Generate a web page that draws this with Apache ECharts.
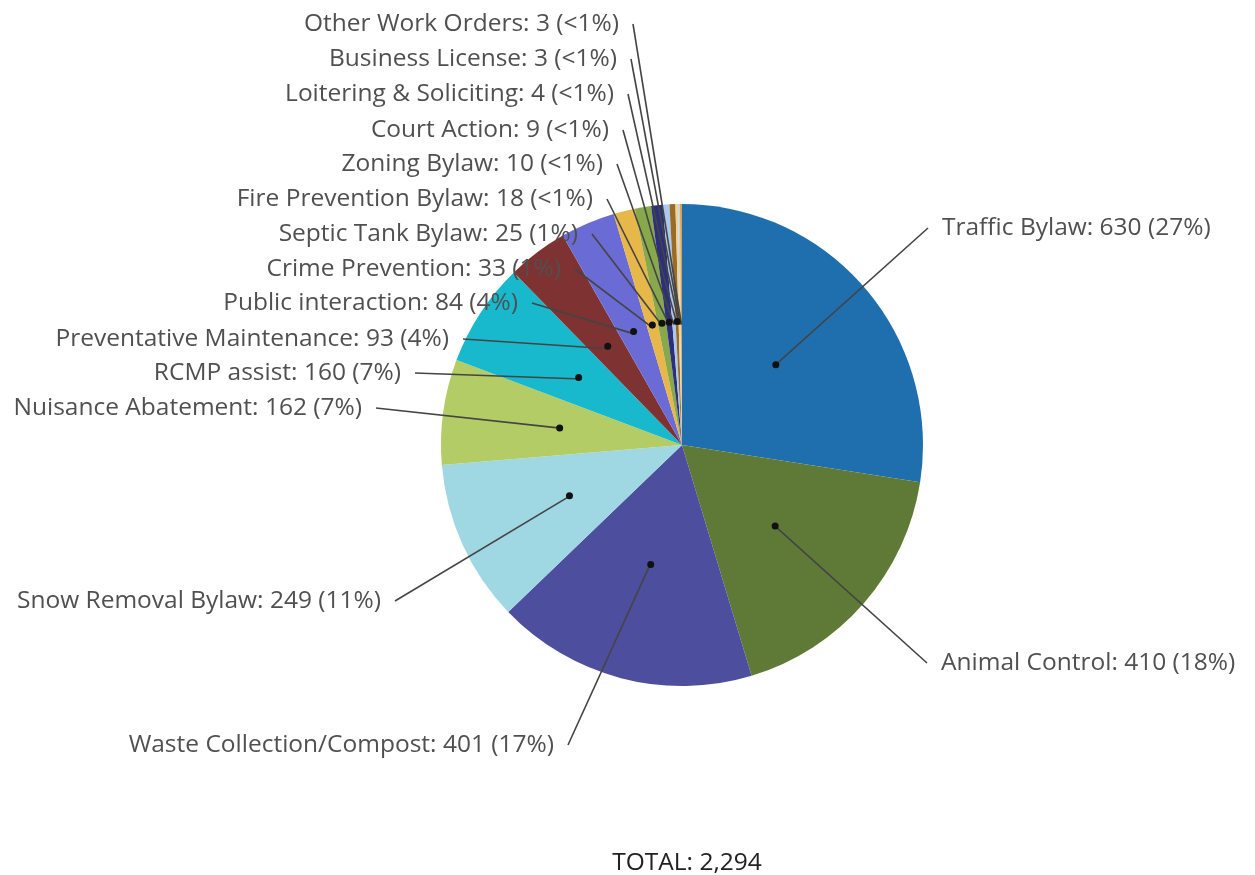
<!DOCTYPE html>
<html>
<head>
<meta charset="utf-8">
<script src="https://cdn.jsdelivr.net/npm/echarts@6/dist/echarts.min.js"></script>
<style>
  html, body { margin: 0; padding: 0; background: #fff; }
  #chart { width: 1255px; height: 875px; }
</style>
</head>
<body>
<div id="chart"></div>
<script>
const categories = [
  "Traffic Bylaw", "Animal Control", "Waste Collection/Compost", "Snow Removal Bylaw",
  "Nuisance Abatement", "RCMP assist", "Preventative Maintenance", "Public interaction",
  "Crime Prevention", "Septic Tank Bylaw", "Fire Prevention Bylaw", "Zoning Bylaw",
  "Court Action", "Loitering & Soliciting", "Business License", "Other Work Orders"
];
const counts = [630, 410, 401, 249, 162, 160, 93, 84, 33, 25, 18, 10, 9, 4, 3, 3];
const colors = [
  "#1f6fae", "#5e7a36", "#4d4f9e", "#9fd7e2", "#b4cc65", "#18b9cd", "#7e3332", "#6b6bd5",
  "#e7b849", "#87a94c", "#2c2f7b", "#aac8ec", "#9b6a27", "#e9d591", "#c5d3e8", "#e0a040"
];

const total = counts.reduce((a, b) => a + b, 0);

// label anchor spots [x, y, side] (side: 1 = text to the right of the line start)
const labelSpots = [
  [928, 228, 1], [927, 663, 1], [568, 745, -1], [395, 601, -1],
  [376, 408, -1], [415, 373, -1], [463, 339, -1], [532, 303, -1],
  [575, 269, -1], [592, 234, -1], [607, 199, -1], [617, 164, -1],
  [623, 130, -1], [628, 94, -1], [631, 59, -1], [633, 24, -1]
];

const pieData = categories.map((name, i) => ({ name: name, value: counts[i] }));

const pctText = (v) => {
  const p = v / total * 100;
  return p < 1 ? "<1%" : Math.round(p) + "%";
};

const chart = echarts.init(document.getElementById("chart"));

const basePie = {
  type: "pie",
  center: [682, 445],
  radius: 241,
  startAngle: 90,
  data: pieData,
  emphasis: { disabled: true }
};

const option = {
  color: colors,
  animation: false,
  title: {
    text: "TOTAL: " + total.toLocaleString("en-US"),
    left: 682,
    textAlign: "center",
    top: 846,
    textStyle: {
      fontFamily: "Open Sans",
      fontSize: 24.5,
      fontWeight: "normal",
      color: "#222"
    }
  },
  series: [
    Object.assign({}, basePie, {
      z: 1,
      itemStyle: { borderWidth: 0 },
      label: { show: false },
      labelLine: { show: false }
    }),
    Object.assign({}, basePie, {
      z: 5,
      silent: true,
      itemStyle: { color: "rgba(0,0,0,0)", borderWidth: 0 },
      label: {
        show: true,
        position: "outside",
        fontFamily: "Open Sans",
        fontSize: 24.5,
        color: "#505050",
        formatter: (p) => p.name + ": " + p.value + " (" + pctText(p.value) + ")"
      },
      labelLine: {
        show: true,
        length: 10,
        length2: 10,
        lineStyle: { color: "#444", width: 1.6 }
      },
      labelLayout: (params) => {
        const i = params.dataIndex;
        const spot = labelSpots[i];
        const lay = chart.getModel().getSeriesByIndex(1).getData().getItemLayout(i);
        const mid = (lay.startAngle + lay.endAngle) / 2;
        const inner = [lay.cx + lay.r / 2 * Math.cos(mid), lay.cy + lay.r / 2 * Math.sin(mid)];
        return {
          x: spot[0] + spot[2] * 14,
          y: spot[1],
          align: spot[2] > 0 ? "left" : "right",
          verticalAlign: "middle",
          labelLinePoints: [[spot[0], spot[1]], inner]
        };
      }
    }),
    Object.assign({}, basePie, {
      z: 6,
      silent: true,
      itemStyle: { color: "rgba(0,0,0,0)", borderWidth: 0 },
      label: {
        show: true,
        position: "inside",
        formatter: "{d|}",
        rich: {
          d: { width: 7, height: 7, borderRadius: 3.5, backgroundColor: "#111" }
        }
      },
      labelLine: { show: false }
    })
  ]
};

chart.setOption(option);
</script>
</body>
</html>
